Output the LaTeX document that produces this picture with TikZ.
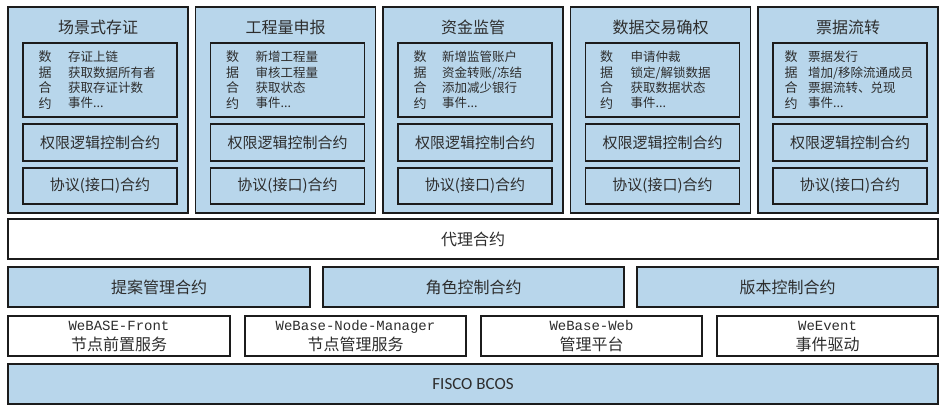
\documentclass[tikz,border=0pt]{standalone}
\usepackage{fontspec}
\setmainfont{Noto Sans CJK SC}
\newfontfamily\monof{Liberation Mono}
\newfontfamily\calib{Carlito}
\definecolor{lblue}{RGB}{184,214,235}
\definecolor{bordc}{RGB}{28,28,28}
\definecolor{ink}{RGB}{45,45,45}
% box from corners: name, x1, y1, x2, y2, style, text
\newcommand\bx[7]{\node[#6, minimum width={((#4)-(#2))*1pt}, minimum height={((#5)-(#3))*1pt}] (#1) at ({((#2)+(#4))/2},{((#3)+(#5))/2}) {#7};}
% column: index, left x, title, label offset, list offset, three items
\newcommand\appcol[8]{%
  \bx{col#1}{#2}{7}{#2+180}{213}{bluebox}{}
  \node[coltitle] (title#1) at (#2+90,27) {#3};
  \bx{data#1}{#2+15}{43}{#2+169}{117}{bluebox}{}
  \node[vlab] (vlab#1) at (#2+#4,80) {数\\据\\合\\约};
  \node[listtxt] (list#1) at (#2+#5,80) {#6\\#7\\#8\\事件...};
  \bx{perm#1}{#2+15}{124}{#2+169}{161}{bluebox,font=\fontsize{15}{18}\selectfont}{权限逻辑控制合约}
  \bx{prot#1}{#2+15}{168}{#2+169}{204}{bluebox,font=\fontsize{15}{18}\selectfont}{协议(接口)合约}
}
\begin{document}
\begin{tikzpicture}[x=1pt,y=-1pt,
  blk/.style={draw=bordc, line width=1.8pt, inner sep=0pt, text=ink, align=center},
  bluebox/.style={blk, fill=lblue},
  whitebox/.style={blk, fill=white},
  coltitle/.style={inner sep=0pt, text=ink, font=\fontsize{16}{19}\selectfont},
  vlab/.style={inner sep=0pt, text=ink, align=center, font=\fontsize{13}{15.4}\selectfont},
  listtxt/.style={inner sep=0pt, anchor=west, text=ink, align=left, font=\fontsize{12.5}{15.4}\selectfont},
  bigtxt/.style={font=\fontsize{16}{20}\selectfont},
  svc/.style={whitebox, font=\fontsize{16}{20}\selectfont},
  monoline/.style={}]
\useasboundingbox (0,0) rectangle (952,416);
\appcol{1}{8}{场景式存证}{37}{60}{存证上链}{获取数据所有者}{获取存证计数}
\appcol{2}{195.5}{工程量申报}{37}{60}{新增工程量}{审核工程量}{获取状态}
\appcol{3}{383}{资金监管}{37}{59}{新增监管账户}{资金转账/冻结}{添加减少银行}
\appcol{4}{570.5}{数据交易确权}{36}{60}{申请仲裁}{锁定/解锁数据}{获取数据状态}
\appcol{5}{758}{票据流转}{33}{50}{票据发行}{增加/移除流通成员}{票据流转、兑现}
\bx{proxy}{8}{219}{938}{259}{whitebox,bigtxt}{代理合约}
\bx{prop}{8}{267}{310}{307}{bluebox,bigtxt}{提案管理合约}
\bx{role}{323}{267}{624}{307}{bluebox,bigtxt}{角色控制合约}
\bx{ver}{637}{267}{938}{307}{bluebox,bigtxt}{版本控制合约}
\bx{front}{8}{316}{230}{356}{svc}{{\monof\fontsize{14}{20}\selectfont WeBASE-Front}\\节点前置服务}
\bx{nodemgr}{245}{316}{466}{356}{svc}{{\monof\fontsize{14}{20}\selectfont WeBase-Node-Manager}\\节点管理服务}
\bx{web}{481}{316}{702}{356}{svc}{{\monof\fontsize{14}{20}\selectfont WeBase-Web}\\管理平台}
\bx{event}{717}{316}{938}{356}{svc}{{\monof\fontsize{14}{20}\selectfont WeEvent}\\事件驱动}
\bx{fisco}{8}{364}{938}{404}{bluebox,font=\calib\fontsize{17}{20}\selectfont}{FISCO BCOS}
\end{tikzpicture}
\end{document}
